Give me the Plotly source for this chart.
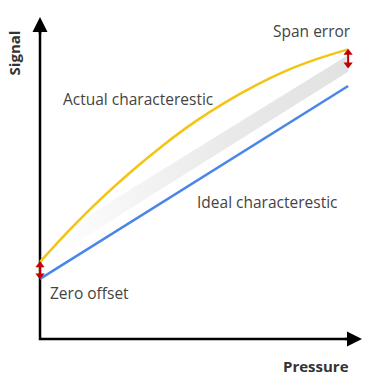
import plotly.graph_objects as go

# Data (arbitrary units: pressure 0-100, signal 0-100)
pressure_actual = [0, 10, 20, 30, 40, 50, 60, 70, 80, 90, 100]
signal_actual = [25, 35.8, 45.7, 54.7, 62.9, 70.3, 76.7, 82.3, 87.1, 90.9, 94.0]

pressure_ideal = [0, 100]
signal_ideal = [19.5, 82.1]

band_x = [4.9, 100, 100, 4.9]
band_y = [33.4, 92.2, 86.7, 27.0]

zero_offset = [19.5, 25.0]
span_error = [88.0, 94.0]

labels = ["Actual characterestic", "Ideal characterestic", "Zero offset", "Span error"]
label_x = [31.8, 73.7, 15.9, 88.3]
label_y = [77.9, 44.5, 14.9, 100.0]

AX_MIN = -1.95
AX_MAX = 104.5
FONT = "Open Sans"
HEAD = 1.1  # arrowhead half-length in data units

fig = go.Figure()

fig.add_trace(go.Scatter(
    x=band_x, y=band_y, mode="lines", fill="toself",
    line=dict(width=0, color="rgba(0,0,0,0)"),
    fillgradient=dict(type="horizontal",
                      colorscale=[[0, "#ffffff"], [0.3, "#f3f3f3"], [0.6, "#e9e9e9"],
                                  [1, "#e2e2e2"]]),
    hoverinfo="skip", showlegend=False))

# axis lines
fig.add_trace(go.Scatter(x=[0, 0, AX_MAX - 3], y=[AX_MAX - 3, 0, 0], mode="lines",
                         line=dict(color="black", width=2.5),
                         showlegend=False, hoverinfo="skip"))

fig.add_trace(go.Scatter(
    x=pressure_ideal, y=signal_ideal, mode="lines",
    line=dict(color="#4A86E8", width=2.5), showlegend=False))

fig.add_trace(go.Scatter(
    x=pressure_actual, y=signal_actual, mode="lines", line_shape="spline",
    line=dict(color="#F4C414", width=2.5), showlegend=False))

# red double-headed arrows
for xv, (y0, y1) in [(0, zero_offset), (100, span_error)]:
    fig.add_trace(go.Scatter(x=[xv, xv], y=[y0 + HEAD, y1 - HEAD], mode="lines",
                             line=dict(color="#C00000", width=2),
                             showlegend=False, hoverinfo="skip"))
    fig.add_trace(go.Scatter(x=[xv, xv], y=[y0 + HEAD, y1 - HEAD], mode="markers",
                             cliponaxis=False,
                             marker=dict(symbol=["triangle-down", "triangle-up"], size=8,
                                         color="#C00000", line=dict(width=0)),
                             showlegend=False, hoverinfo="skip"))

annotations = []
# axis arrowheads
annotations.append(dict(x=0, y=AX_MAX, ax=0, ay=AX_MAX - 6, xref="x", yref="y",
                        axref="x", ayref="y",
                        showarrow=True, arrowhead=2, arrowsize=1.2, arrowwidth=2.5,
                        arrowcolor="black", text="", standoff=0, startstandoff=0))
annotations.append(dict(x=AX_MAX, y=0, ax=AX_MAX - 6, ay=0, xref="x", yref="y",
                        axref="x", ayref="y",
                        showarrow=True, arrowhead=2, arrowsize=1.2, arrowwidth=2.5,
                        arrowcolor="black", text="", standoff=0, startstandoff=0))
for t, xv, yv in zip(labels, label_x, label_y):
    annotations.append(dict(x=xv, y=yv, xref="x", yref="y", text=t, showarrow=False,
                            xanchor="center", yanchor="middle",
                            font=dict(family=FONT, size=15.5, color="#444444")))
annotations.append(dict(x=-0.062, y=0.891, xref="paper", yref="paper", text="<b>Signal</b>",
                        textangle=-90, showarrow=False, xanchor="center", yanchor="middle",
                        font=dict(family=FONT, size=15, color="#333333")))
annotations.append(dict(x=0.86, y=-0.065, xref="paper", yref="paper", text="<b>Pressure</b>",
                        showarrow=False, xanchor="center", yanchor="middle",
                        font=dict(family=FONT, size=15, color="#333333")))

fig.update_layout(
    width=378, height=381,
    margin=dict(l=34, r=16, t=17, b=36),
    paper_bgcolor="white", plot_bgcolor="white",
    xaxis=dict(range=[AX_MIN, AX_MAX], visible=False, fixedrange=True),
    yaxis=dict(range=[AX_MIN, AX_MAX], visible=False, fixedrange=True),
    annotations=annotations,
)

fig.write_html("out.html", config={"displayModeBar": False},
               post_script="document.body.style.margin='0';document.body.style.overflow='hidden';")
